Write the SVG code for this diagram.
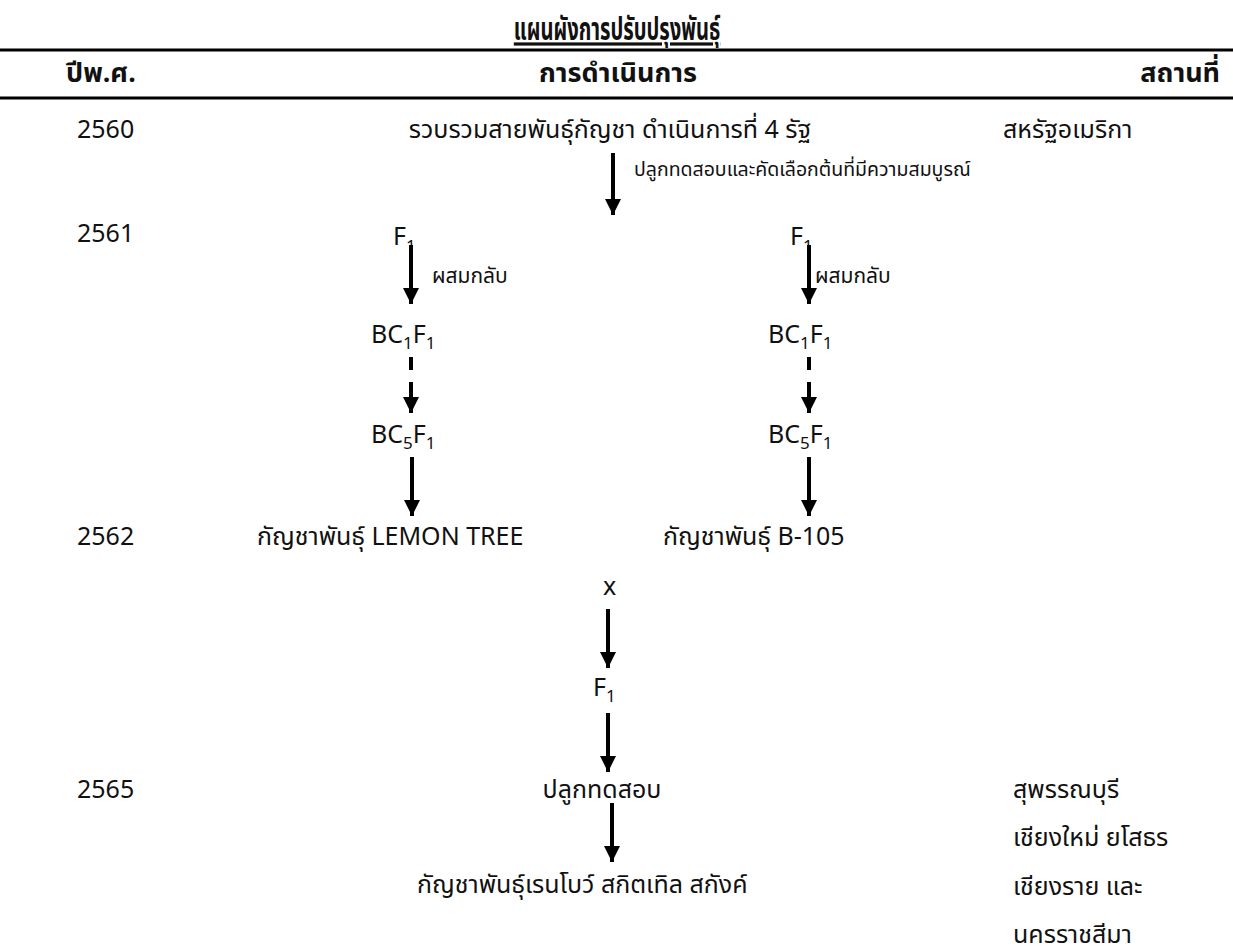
<svg xmlns="http://www.w3.org/2000/svg" width="1233" height="950" viewBox="0 0 1233 950">
<defs>
<style>
text{font-family:"Noto Sans","Noto Sans Thai","Loma","Garuda","Tlwg Typist",sans-serif;fill:#111}
.ti{font-weight:bold;font-size:32px}
.hd{font-weight:bold;font-size:27px}
.t{font-size:25px}
.s{font-size:19.5px}
.s2{font-size:21px}
.sub{font-size:17px}
.ln{stroke:#000;stroke-width:4;fill:none}
.rule{stroke:#000;stroke-width:3}
</style>
<marker id="ah" viewBox="0 0 10 10" refX="10" refY="5" markerWidth="4" markerHeight="4" orient="auto" markerUnits="strokeWidth">
<path d="M0,0 L10,5 L0,10 z" fill="#000"/>
</marker>
</defs>
<g id="header">
<text class="ti" transform="translate(617,40) scale(0.63,1)" text-anchor="middle" text-decoration="underline">แผนผังการปรับปรุงพันธุ์</text>
<line class="rule" x1="0" y1="50" x2="1233" y2="50"/>
<text class="hd" x="66" y="82">ปีพ.ศ.</text>
<text class="hd" x="618" y="82" text-anchor="middle">การดำเนินการ</text>
<text class="hd" x="1220" y="82" text-anchor="end">สถานที่</text>
<line class="rule" x1="0" y1="98" x2="1233" y2="98"/>
</g>
<g id="years">
<text class="t" x="77" y="138">2560</text>
<text class="t" x="77" y="242">2561</text>
<text class="t" x="77" y="545">2562</text>
<text class="t" x="77" y="798">2565</text>
</g>
<g id="n-collect"><text class="t" x="610" y="138" text-anchor="middle">รวบรวมสายพันธุ์กัญชา ดำเนินการที่ 4 รัฐ</text></g>
<g id="n-usa"><text class="t" x="1003" y="138">สหรัฐอเมริกา</text></g>
<g id="n-f1-left"><text class="t" x="393" y="245">F<tspan class="sub" dy="7">1</tspan></text></g>
<g id="n-f1-right"><text class="t" x="790" y="245">F<tspan class="sub" dy="7">1</tspan></text></g>
<g id="n-bc1-left"><text class="t" x="371" y="343">BC<tspan class="sub" dy="6">1</tspan><tspan dy="-6">F</tspan><tspan class="sub" dy="6">1</tspan></text></g>
<g id="n-bc1-right"><text class="t" x="768" y="343">BC<tspan class="sub" dy="6">1</tspan><tspan dy="-6">F</tspan><tspan class="sub" dy="6">1</tspan></text></g>
<g id="n-bc5-left"><text class="t" x="371" y="443">BC<tspan class="sub" dy="6">5</tspan><tspan dy="-6">F</tspan><tspan class="sub" dy="6">1</tspan></text></g>
<g id="n-bc5-right"><text class="t" x="768" y="443">BC<tspan class="sub" dy="6">5</tspan><tspan dy="-6">F</tspan><tspan class="sub" dy="6">1</tspan></text></g>
<g id="n-lemon"><text class="t" x="257" y="545">กัญชาพันธุ์ LEMON TREE</text></g>
<g id="n-b105"><text class="t" x="663" y="545">กัญชาพันธุ์ B-105</text></g>
<g id="n-x"><text class="t" x="603" y="595">x</text></g>
<g id="n-f1-cross"><text class="t" x="593" y="696">F<tspan class="sub" dy="6">1</tspan></text></g>
<g id="n-test"><text class="t" x="602" y="798" text-anchor="middle">ปลูกทดสอบ</text></g>
<g id="n-rainbow"><text class="t" x="417" y="893">กัญชาพันธุ์เรนโบว์ สกิตเทิล สกังค์</text></g>
<g id="n-places">
<text class="t" x="1013" y="798">สุพรรณบุรี</text>
<text class="t" x="1013" y="846">เชียงใหม่ ยโสธร</text>
<text class="t" x="1013" y="895">เชียงราย และ</text>
<text class="t" x="1013" y="943">นครราชสีมา</text>
</g>
<g id="connectors">
<line class="ln" x1="613" y1="153" x2="613" y2="215" marker-end="url(#ah)"/>
<text class="s" x="634" y="176">ปลูกทดสอบและคัดเลือกต้นที่มีความสมบูรณ์</text>
<line class="ln" x1="411" y1="245" x2="411" y2="304" marker-end="url(#ah)"/>
<text class="s2" x="432" y="283">ผสมกลับ</text>
<line class="ln" x1="809" y1="245" x2="809" y2="304" marker-end="url(#ah)"/>
<text class="s2" x="815" y="283">ผสมกลับ</text>
<line class="ln" x1="411" y1="357" x2="411" y2="370"/>
<line class="ln" x1="411" y1="382" x2="411" y2="413" marker-end="url(#ah)"/>
<line class="ln" x1="809" y1="357" x2="809" y2="370"/>
<line class="ln" x1="809" y1="382" x2="809" y2="413" marker-end="url(#ah)"/>
<line class="ln" x1="412" y1="457" x2="412" y2="516" marker-end="url(#ah)"/>
<line class="ln" x1="809" y1="457" x2="809" y2="516" marker-end="url(#ah)"/>
<line class="ln" x1="608" y1="609" x2="608" y2="668" marker-end="url(#ah)"/>
<line class="ln" x1="608" y1="713" x2="608" y2="772" marker-end="url(#ah)"/>
<line class="ln" x1="612" y1="803" x2="612" y2="862" marker-end="url(#ah)"/>
</g>
</svg>
